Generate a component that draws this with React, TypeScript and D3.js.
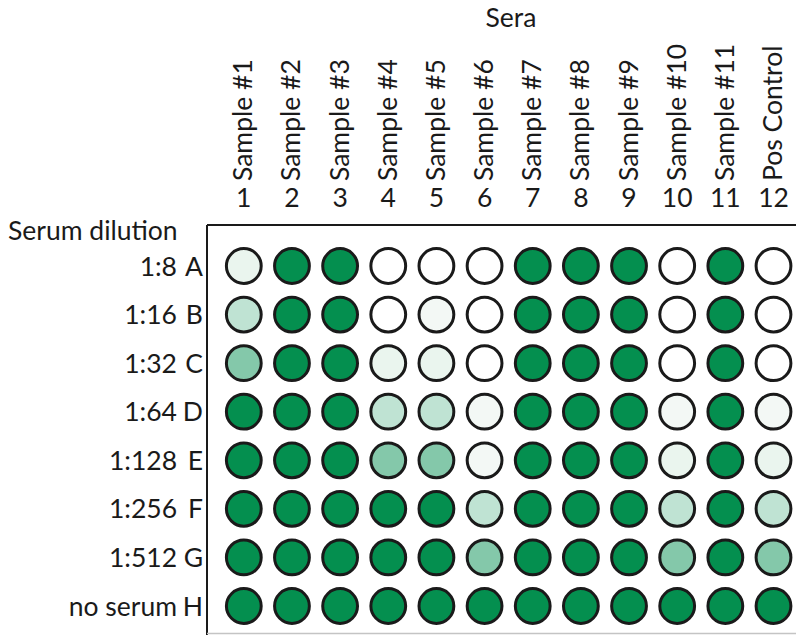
import React from "react";
import * as d3 from "d3";

const columnNumbers = ["1", "2", "3", "4", "5", "6", "7", "8", "9", "10", "11", "12"];
const columnNames = [
  "Sample #1", "Sample #2", "Sample #3", "Sample #4", "Sample #5", "Sample #6",
  "Sample #7", "Sample #8", "Sample #9", "Sample #10", "Sample #11", "Pos Control",
];
const rowLetters = ["A", "B", "C", "D", "E", "F", "G", "H"];
const rowDilutions = ["1:8", "1:16", "1:32", "1:64", "1:128", "1:256", "1:512", "no serum"];

// signal level per well (0 = none ... 5 = full), one array per row A..H, columns 1..12
const rowA = [2, 5, 5, 0, 0, 0, 5, 5, 5, 0, 5, 0];
const rowB = [3, 5, 5, 0, 1, 0, 5, 5, 5, 0, 5, 0];
const rowC = [4, 5, 5, 2, 2, 0, 5, 5, 5, 0, 5, 0];
const rowD = [5, 5, 5, 3, 3, 1, 5, 5, 5, 1, 5, 1];
const rowE = [5, 5, 5, 4, 4, 1, 5, 5, 5, 2, 5, 2];
const rowF = [5, 5, 5, 5, 5, 3, 5, 5, 5, 3, 5, 3];
const rowG = [5, 5, 5, 5, 5, 4, 5, 5, 5, 4, 5, 4];
const rowH = [5, 5, 5, 5, 5, 5, 5, 5, 5, 5, 5, 5];
const wellLevels = [rowA, rowB, rowC, rowD, rowE, rowF, rowG, rowH];

const levelDomain = [0, 1, 2, 3, 4, 5];
const levelColors = ["#ffffff", "#f3f8f5", "#eaf5ee", "#bfe3d3", "#84c8aa", "#048f4f"];

const FONT = "Lato, 'Open Sans', sans-serif";
const FS = 26.5;

export default function App() {
  const W = 796;
  const H = 635;
  const x = d3.scalePoint<string>().domain(columnNumbers).range([243.8, 773.5]);
  const y = d3.scalePoint<string>().domain(rowLetters).range([266, 606]);
  const color = d3.scaleOrdinal<number, string>().domain(levelDomain).range(levelColors);

  const frameLeft = 207;
  const frameTop = 225;

  return (
    <svg
      width={W}
      height={H}
      style={{ position: "absolute", left: 0, top: 0, background: "#fff" }}
      fontFamily={FONT}
    >
      <rect x={0} y={0} width={W} height={H} fill="#fff" />
      {/* frame */}
      <line x1={frameLeft} y1={frameTop} x2={W} y2={frameTop} stroke="#1a1a1a" strokeWidth={2} />
      <line x1={frameLeft} y1={frameTop} x2={frameLeft} y2={H} stroke="#1a1a1a" strokeWidth={2} />
      <line x1={frameLeft} y1={633.5} x2={W} y2={633.5} stroke="#c4c4c4" strokeWidth={1.5} />

      {/* title */}
      <text x={511} y={27} fontSize={FS} textAnchor="middle" fill="#1a1a1a">Sera</text>
      <text x={8} y={240} fontSize={FS} fill="#1a1a1a">Serum dilution</text>

      {/* column labels */}
      {columnNumbers.map((c, i) => (
        <g key={c}>
          <text
            transform={`translate(${(x(c) as number) + 8.5},181) rotate(-90)`}
            fontSize={FS}
            fill="#1a1a1a"
          >
            {columnNames[i]}
          </text>
          <text x={x(c)} y={207} fontSize={FS} textAnchor="middle" fill="#1a1a1a">
            {c}
          </text>
        </g>
      ))}

      {/* row labels */}
      {rowLetters.map((r, i) => (
        <g key={r}>
          <text x={177} y={(y(r) as number) + 9.5} fontSize={FS} textAnchor="end" fill="#1a1a1a">
            {rowDilutions[i]}
          </text>
          <text x={203} y={(y(r) as number) + 9.5} fontSize={FS} textAnchor="end" fill="#1a1a1a">
            {r}
          </text>
        </g>
      ))}

      {/* wells */}
      {wellLevels.map((row, ri) =>
        row.map((lv, ci) => (
          <circle
            key={`${ri}-${ci}`}
            cx={x(columnNumbers[ci])}
            cy={y(rowLetters[ri])}
            r={17.4}
            fill={color(lv)}
            stroke="#1a1a1a"
            strokeWidth={3}
          />
        ))
      )}
    </svg>
  );
}
